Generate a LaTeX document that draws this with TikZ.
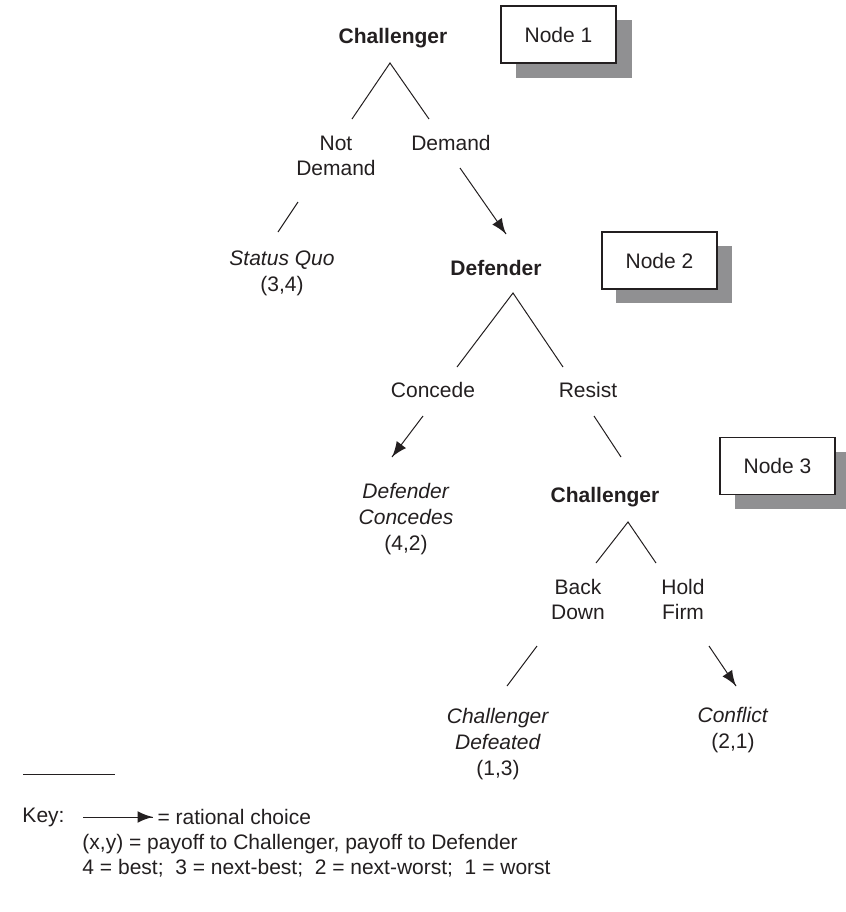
\documentclass[tikz,border=0pt]{standalone}
\usepackage{fontspec}
\setmainfont{Liberation Sans}
\usetikzlibrary{decorations.markings}
\usetikzlibrary{arrows}
\definecolor{shadowgray}{RGB}{144,144,146}
\definecolor{ink}{RGB}{35,31,32}

\begin{document}
\begin{tikzpicture}[x=0.5pt,y=-0.5pt,line width=0.5pt,color=ink,
    every node/.style={font=\fontsize{10.5}{12.5}\selectfont}]
        \tikzset{choice/.style={decoration={markings,mark=at position 1 with %
    {\arrow[scale=1.8,>=latex]{>}}},postaction={decorate}}}
        \tikzset{player/.style={font=\fontsize{10.5}{12.5}\selectfont\bfseries},
          move/.style={align=center},
          outcome/.style={align=center,font=\fontsize{10.5}{13}\selectfont},
          tag/.style={draw,line width=0.6pt,fill=white,minimum width=57.5pt,minimum height=28.5pt}}
        \useasboundingbox (0,0) rectangle (846,912);
        % shadows of the node tags
        \fill[shadowgray] (516,20) rectangle (632,78);
        \fill[shadowgray] (616,246) rectangle (732,303);
        \fill[shadowgray] (735,452) rectangle (851,509);
        \node (tag1) at (558.5,34.5) [tag] {Node 1};
        \node (tag2) at (659.5,260.5) [tag] {Node 2};
        \node (tag3) at (777.5,466) [tag] {Node 3};
        % players and moves
        \node (C1) at (393,38) [player] {Challenger};
        \node (ND) at (336,155.5) [move] {Not\\Demand};
        \node (DM) at (451,143) [move] {Demand};
        \node (SQ) at (282,273) [outcome] {\textit{Status Quo}\\(3,4)};
        \node (DF) at (496,268) [player] {Defender};
        \node (CD) at (433,390) [move] {Concede};
        \node (RS) at (588,390) [move] {Resist};
        \node (DC) at (406,519.5) [outcome] {\textit{Defender}\\\textit{Concedes}\\(4,2)};
        \node (C2) at (605,497) [player] {Challenger};
        \node (BD) at (578,599.5) [move] {Back\\Down};
        \node (HF) at (683,599.5) [move] {Hold\\Firm};
        \node (CF) at (498,744) [outcome] {\textit{Challenger}\\\textit{Defeated}\\(1,3)};
        \node (CL) at (733,730.5) [outcome] {\textit{Conflict}\\(2,1)};
        % line ends
        \coordinate (C1a) at (390,63);
        \coordinate (NDt) at (352,119);
        \coordinate (DMt) at (429,119);
        \coordinate (NDb) at (298,202);
        \coordinate (SQt) at (278,232);
        \coordinate (DMb) at (460,168);
        \coordinate (DFt) at (506,234);
        \coordinate (DFa) at (513,293);
        \coordinate (CDt) at (457,367);
        \coordinate (RSt) at (563,367);
        \coordinate (CDb) at (423,416);
        \coordinate (DCt) at (392,457);
        \coordinate (RSb) at (594,416);
        \coordinate (C2t) at (621,457);
        \coordinate (C2a) at (628,522);
        \coordinate (BDt) at (596,563);
        \coordinate (HFt) at (656,563);
        \coordinate (BDb) at (537,646);
        \coordinate (CFt) at (507,686);
        \coordinate (HFb) at (709,646);
        \coordinate (CLt) at (736,686);
        \draw (NDt) -- (C1a) -- (DMt);
        \draw (NDb) -- (SQt);
        \draw [choice] (DMb) -- (DFt);
        \draw (CDt) -- (DFa) -- (RSt);
        \draw [choice] (CDb) -- (DCt);
        \draw (RSb) -- (C2t);
        \draw (BDt) -- (C2a) -- (HFt);
        \draw (BDb) -- (CFt);
        \draw [choice] (HFb) -- (CLt);
        % key
        \draw (23,774) -- (115,774);
        \node (key) at (22,817) [anchor=west,inner sep=0pt] {Key:};
        \coordinate (keyA) at (83,817);
        \coordinate (keyB) at (153,817);
        \draw [choice] (keyA) -- (keyB);
        \node (keyR) at (157,817) [anchor=west,inner sep=0pt] {= rational choice};
        \node (keyP) at (82,844) [anchor=west,inner sep=0pt] {(x,y) = payoff to Challenger, payoff to Defender};
        \node (keyO) at (82,868) [anchor=west,inner sep=0pt] {4 = best;\ \ 3 = next-best;\ \ 2 = next-worst;\ \ 1 = worst};
    \end{tikzpicture}
\end{document}
